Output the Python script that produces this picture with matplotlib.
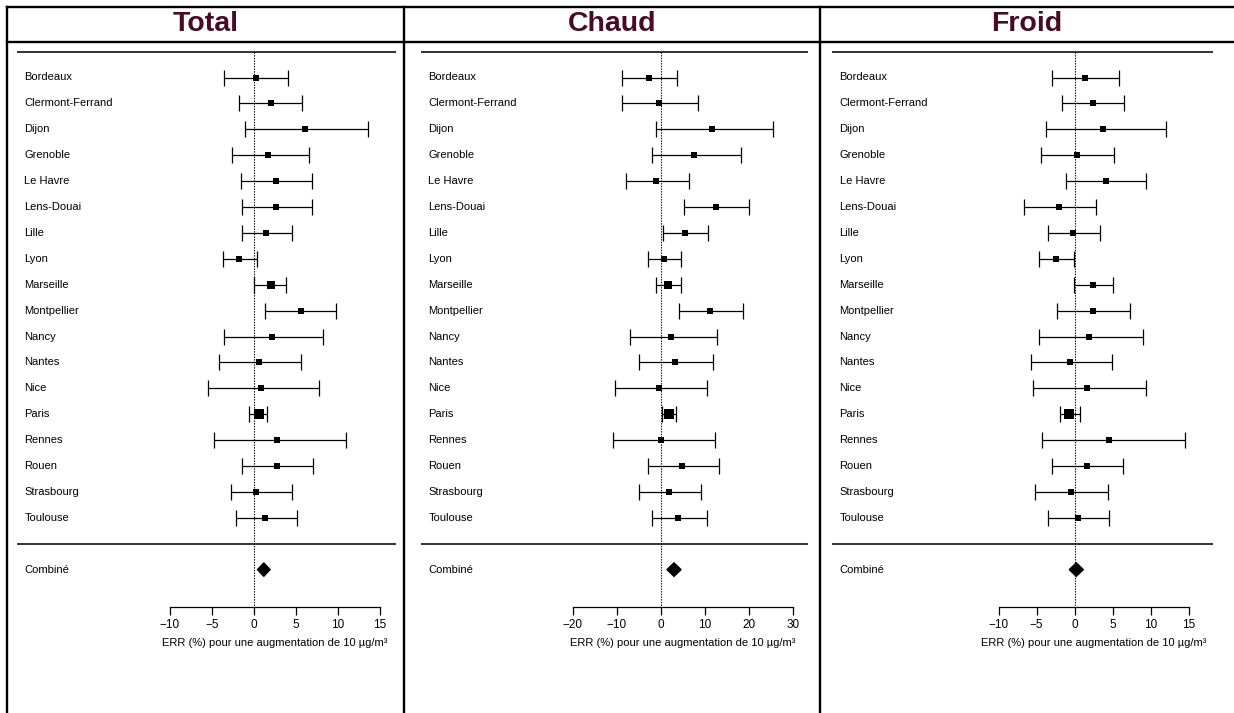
import matplotlib.pyplot as plt
from matplotlib.lines import Line2D
from matplotlib.patches import Polygon

plt.rcParams['font.family'] = ['Liberation Sans', 'DejaVu Sans']

# Villes (ordre d'affichage de haut en bas)
villes = ["Bordeaux", "Clermont-Ferrand", "Dijon", "Grenoble", "Le Havre",
          "Lens-Douai", "Lille", "Lyon", "Marseille", "Montpellier", "Nancy",
          "Nantes", "Nice", "Paris", "Rennes", "Rouen", "Strasbourg", "Toulouse"]

# ---- Total ----
total_err = [0.3, 2.0, 6.1, 1.75, 2.6, 2.7, 1.5, -1.7, 2.06, 5.6, 2.2,
             0.63, 0.87, 0.6, 2.8, 2.8, 0.3, 1.4]
total_lo = [-3.5, -1.75, -1.0, -2.6, -1.5, -1.35, -1.35, -3.65, 0.07, 1.4, -3.5,
            -4.1, -5.4, -0.6, -4.7, -1.35, -2.7, -2.15]
total_hi = [4.1, 5.8, 13.6, 6.6, 6.9, 6.9, 4.55, 0.4, 3.9, 9.8, 8.3,
            5.6, 7.8, 1.6, 11.0, 7.0, 4.55, 5.15]
total_poids = [5, 7, 6, 5, 5, 6, 9, 11, 15, 6, 7, 7, 5, 31, 5, 5, 5, 7]
total_comb = (1.2, 0.45, 1.95)
total_ticks = [-10, -5, 0, 5, 10, 15]

# ---- Chaud ----
chaud_err = [-2.6, -0.45, 11.6, 7.6, -1.05, 12.5, 5.5, 0.7, 1.66, 11.1, 2.4,
             3.2, -0.45, 1.8, 0.07, 4.8, 1.8, 3.85]
chaud_lo = [-8.7, -8.7, -1.05, -1.9, -7.8, 5.3, 0.6, -3.0, -1.05, 4.2, -6.9,
            -4.9, -10.3, 0.3, -10.8, -2.95, -4.9, -2.1]
chaud_hi = [3.7, 8.5, 25.5, 18.3, 6.5, 20.0, 10.7, 4.5, 4.5, 18.6, 12.7,
            11.8, 10.4, 3.5, 12.4, 13.2, 9.07, 10.4]
chaud_poids = [7, 5, 5, 5, 5, 6, 10, 12, 16, 6, 7, 6, 5, 27, 5, 5, 5, 6]
chaud_comb = (3.0, 1.4, 4.6)
chaud_ticks = [-20, -10, 0, 10, 20, 30]

# ---- Froid ----
froid_err = [1.36, 2.37, 3.8, 0.26, 4.1, -2.1, -0.22, -2.5, 2.37, 2.46, 1.84,
             -0.66, 1.6, -0.7, 4.56, 1.6, -0.48, 0.4]
froid_lo = [-2.95, -1.7, -3.7, -4.4, -1.1, -6.7, -3.55, -4.7, -0.09, -2.3, -4.7,
            -5.7, -5.5, -1.93, -4.34, -2.95, -5.2, -3.55]
froid_hi = [5.9, 6.5, 12.0, 5.2, 9.4, 2.76, 3.3, -0.13, 5.0, 7.3, 8.95,
            4.87, 9.4, 0.75, 14.5, 6.36, 4.4, 4.56]
froid_poids = [7, 7, 6, 5, 5, 5, 6, 10, 9, 6, 7, 6, 5, 27, 5, 5, 5, 6]
froid_comb = (0.22, -0.7, 1.15)
froid_ticks = [-10, -5, 0, 5, 10, 15]

titres = ["Total", "Chaud", "Froid"]
xlabel = "ERR (%) pour une augmentation de 10 µg/m³"

W, H = 1234, 713
fig = plt.figure(figsize=(W / 100, H / 100), dpi=100)


def fx(px):
    return px / W


def fy(py):
    return 1 - py / H


# cadre du tableau
for (x0, y0, x1, y1) in [(7, 7, W, 7), (7, 42, W, 42), (7, 7, 7, H),
                         (404, 7, 404, H), (820, 7, 820, H)]:
    fig.add_artist(Line2D([fx(x0), fx(x1)], [fy(y0), fy(y1)], color='black',
                          lw=1.7, solid_capstyle='projecting'))

centres = [205.5, 612, 1027]
for t, cx in zip(titres, centres):
    fig.text(fx(cx), fy(24), t, ha='center', va='center', fontsize=20.5,
             fontweight='bold', color='#4A0A22')

# panneaux : (gauche px, droite px, xlim)
panneaux = [
    (17, 396, (-28.18, 16.94), total_err, total_lo, total_hi, total_poids, total_comb, total_ticks),
    (421, 808, (-54.4, 33.4), chaud_err, chaud_lo, chaud_hi, chaud_poids, chaud_comb, chaud_ticks),
    (832, 1213, (-31.9, 18.2), froid_err, froid_lo, froid_hi, froid_poids, froid_comb, froid_ticks),
]

y_top, y_bot = 45, H
row0, pas = 77.5, 25.9
y_axe = 20.45

for left, right, xlim, err, lo, hi, poids, comb, ticks in panneaux:
    ax = fig.add_axes([fx(left), fy(y_bot), (right - left) / W, (y_bot - y_top) / H])
    ax.set_xlim(*xlim)
    ax.set_ylim((y_bot - row0) / pas, (y_top - row0) / pas)
    ax.patch.set_alpha(0)
    for s in ['top', 'left', 'right']:
        ax.spines[s].set_visible(False)
    ax.set_yticks([])

    rows = list(range(len(villes)))
    ax.plot(xlim, [-1, -1], color='#222222', lw=1.3, solid_capstyle='butt')
    ax.plot(xlim, [18, 18], color='#222222', lw=1.3, solid_capstyle='butt')
    ax.plot([0, 0], [-1, y_axe], color='black', lw=0.8, ls=(0, (1.2, 1.2)))

    lab_x = 7.5 / (right - left)
    for i, v in enumerate(villes):
        ax.text(lab_x, i, v, transform=ax.get_yaxis_transform(), ha='left',
                va='center', fontsize=8)
    ax.text(lab_x, 19, "Combiné", transform=ax.get_yaxis_transform(),
            ha='left', va='center', fontsize=8)

    ax.errorbar(err, rows, xerr=[[e - l for e, l in zip(err, lo)],
                                 [h - e for e, h in zip(err, hi)]],
                fmt='none', ecolor='black', elinewidth=0.9, capsize=5.5,
                capthick=0.9)
    # carrés proportionnels au poids de chaque ville
    for e, r, w in zip(err, rows, poids):
        ax.plot(e, r, marker='s', color='black', ms=1.2 + 1.08 * w ** 0.5, mew=0)

    c, cl, ch = comb
    ax.add_patch(Polygon([(cl, 19), (c, 19 - 0.26), (ch, 19), (c, 19 + 0.26)],
                         closed=True, color='black'))

    ax.spines['bottom'].set_position(('data', y_axe))
    ax.spines['bottom'].set_bounds(ticks[0], ticks[-1])
    ax.spines['bottom'].set_linewidth(0.9)
    ax.set_xticks(ticks)
    ax.set_xticklabels([str(t).replace('-', '\u2212') for t in ticks])
    ax.tick_params(axis='x', direction='out', length=5.8, width=0.9,
                   labelsize=8.5, pad=3)
    ax.text((ticks[0] + ticks[-1]) / 2, 21.85, xlabel, ha='center',
            va='center', fontsize=8)

fig.savefig('out.png', dpi=100)
